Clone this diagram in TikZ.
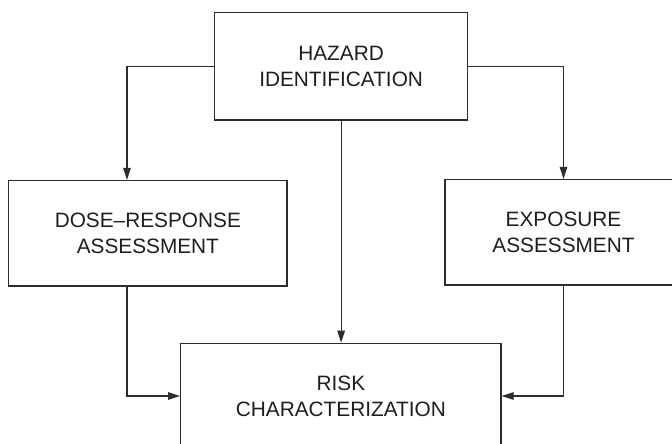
\documentclass[tikz,border=0pt]{standalone}
\usepackage{fontspec}
\setmainfont{Liberation Sans}
\usetikzlibrary{arrows.meta}
\definecolor{linec}{RGB}{45,45,45}
\definecolor{textc}{RGB}{30,30,30}
\begin{document}
\begin{tikzpicture}[x=1pt,y=-1pt,
  boxnode/.style={draw=linec, line width=1.2pt, align=center, inner sep=0pt,
    text=textc, font=\fontsize{20.8}{26}\selectfont},
  conn/.style={draw=linec, line width=1.2pt, -{Triangle[length=12pt,width=7.5pt]}}]
\useasboundingbox (0,0) rectangle (672,444);
\clip (0,0) rectangle (672,444);
\node[boxnode, minimum width=253.2pt, minimum height=107.3pt] (haz) at (341.1,66.35) {HAZARD\\IDENTIFICATION};
\node[boxnode, minimum width=278.3pt, minimum height=105.5pt] (dose) at (147.85,233.25) {DOSE–RESPONSE\\ASSESSMENT};
\node[boxnode, minimum width=237pt, minimum height=105.5pt] (expo) at (563.5,232.25) {EXPOSURE\\ASSESSMENT};
\node[boxnode, minimum width=320.3pt, minimum height=105.4pt] (risk) at (340.85,396) {RISK\\CHARACTERIZATION};
\draw[conn] (haz.west) -| ([xshift=-20.85pt]dose.north);
\draw[conn] (haz.east) -| (expo.north);
\draw[conn] (haz.south) -- (haz.south |- risk.north);
\draw[conn] ([xshift=-20.85pt]dose.south) |- (risk.west);
\draw[conn] (expo.south) |- (risk.east);
\end{tikzpicture}
\end{document}
